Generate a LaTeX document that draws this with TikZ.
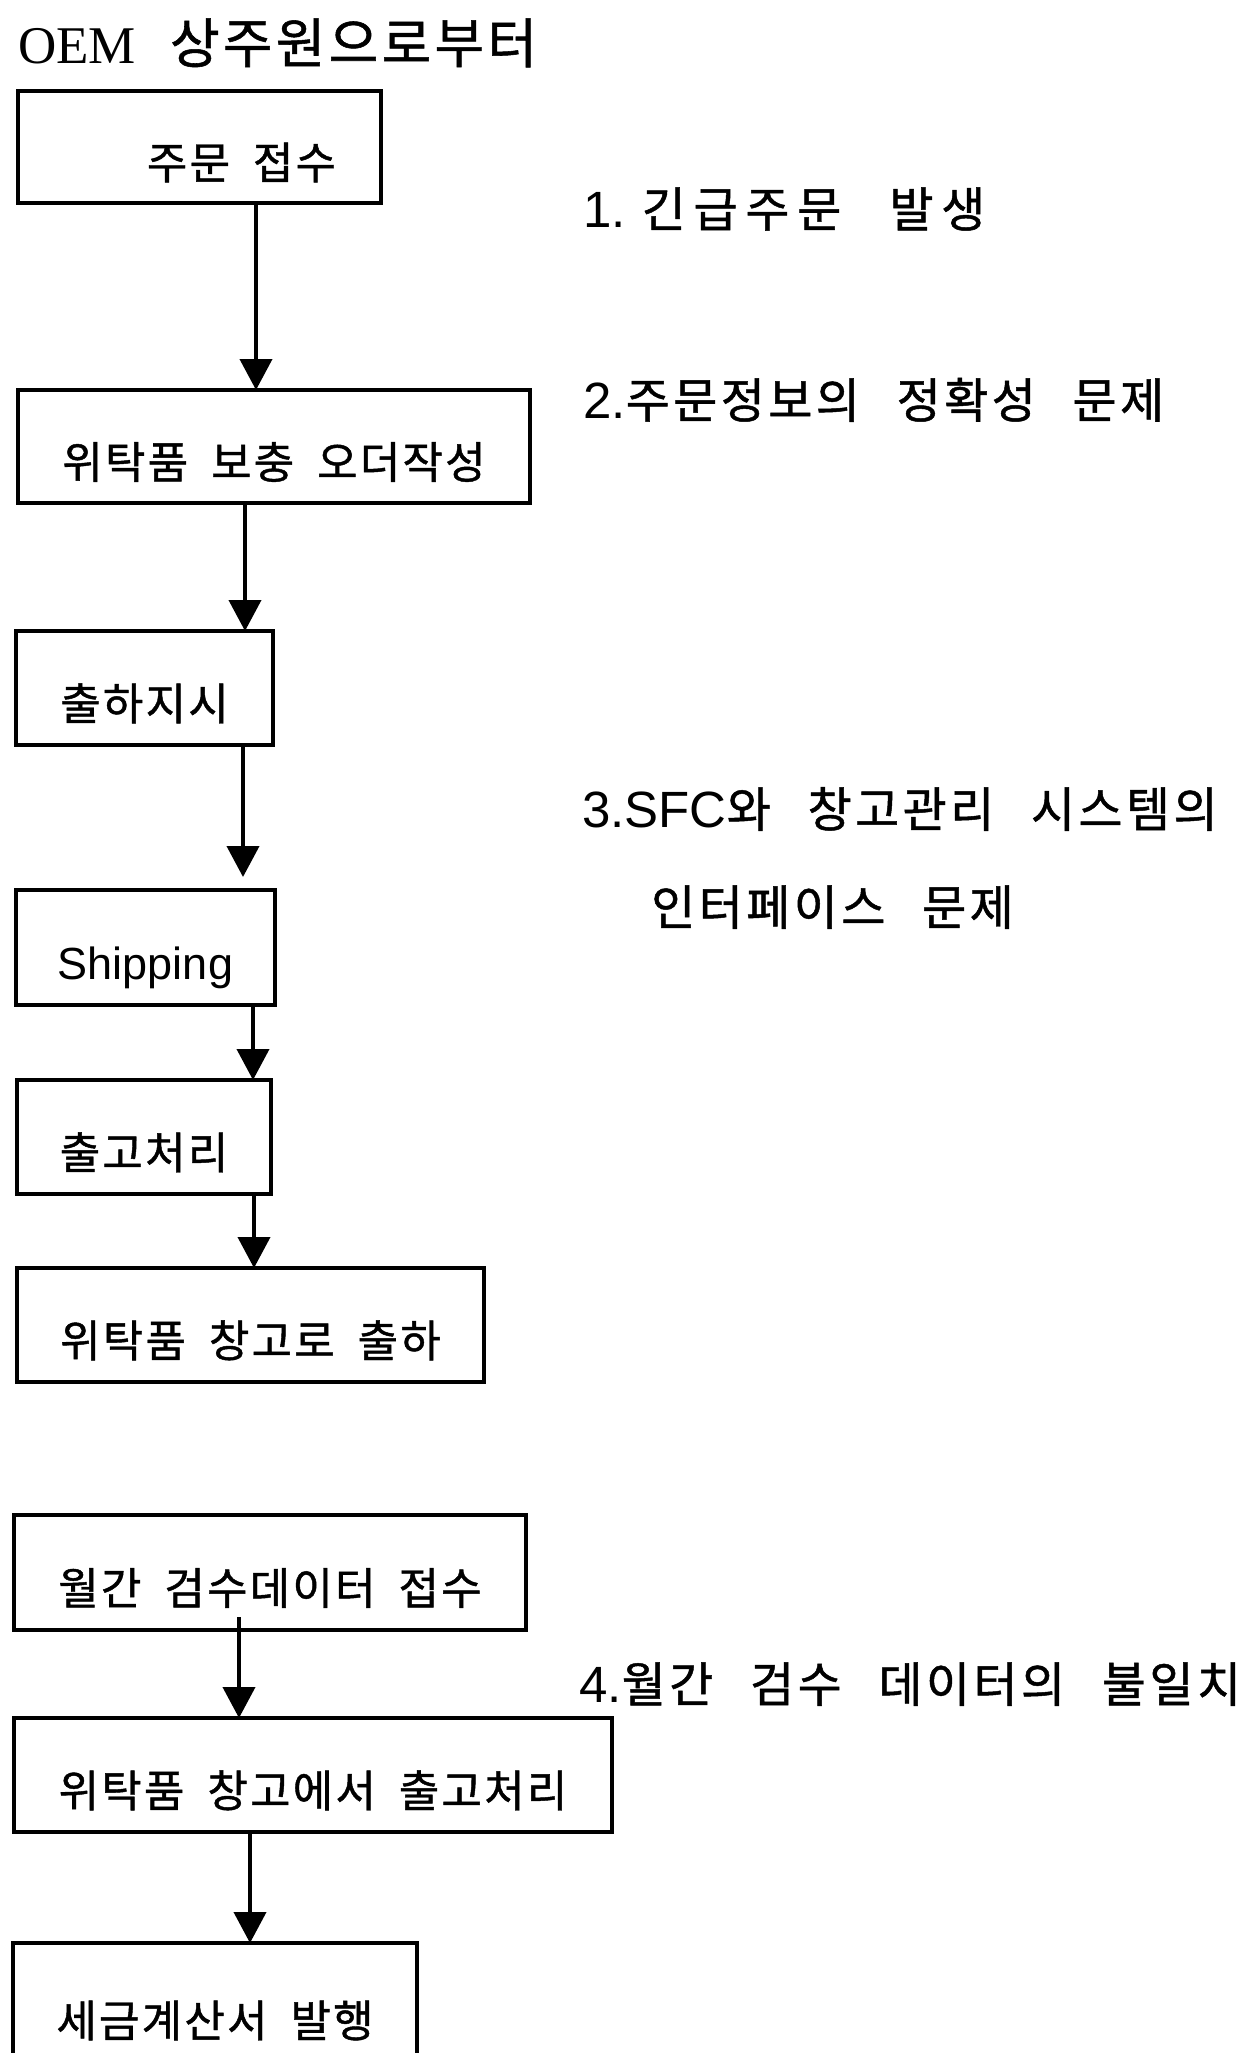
\documentclass[tikz,border=0pt]{standalone}
\usepackage{fontspec}
\usetikzlibrary{arrows.meta}
\newfontfamily\krbox{Noto Sans CJK KR}[LetterSpace=5,WordSpace=1.9,FakeBold=1]
\newfontfamily\krside{Noto Sans CJK KR}[LetterSpace=7,WordSpace=2.6,FakeBold=1]
\newfontfamily\krsidewide{Noto Sans CJK KR}[LetterSpace=16,WordSpace=2.6,FakeBold=1]
\newfontfamily\krtitle{Noto Sans CJK KR}[LetterSpace=6,FakeBold=1]
\newfontfamily\latsans{Liberation Sans}
\newfontfamily\latserif{Liberation Serif}
\tikzset{
  flowbox/.style={draw, line width=4pt, rectangle, inner sep=0pt, outer sep=0pt,
    text height=64pt, text depth=0pt, font=\krbox\fontsize{44}{52}\selectfont},
  flowarrow/.style={line width=4pt, -{Triangle[length=31pt,width=32pt]}},
  sidenote/.style={anchor=base west, inner sep=0pt, font=\krside\fontsize{48}{56}\selectfont}
}
\begin{document}
\begin{tikzpicture}[x=1pt,y=-1pt]
\useasboundingbox[fill=white] (0,0) rectangle (1244,2053);
% title
\node[anchor=base west, inner sep=0pt] (title) at (18,63)
  {{\latserif\fontsize{53}{60}\selectfont OEM}\hspace{34pt}{\krtitle\fontsize{54}{60}\selectfont 상주원으로부터}};
% boxes
\node[flowbox, minimum width=363pt, minimum height=112pt] (b1) at (199.5,147) {\hspace*{84pt}주문 접수};
\node[flowbox, minimum width=512pt, minimum height=113pt] (b2) at (274,446.5) {위탁품 보충 오더작성};
\node[flowbox, minimum width=257pt, minimum height=114pt] (b3) at (144.5,688) {출하지시};
\node[flowbox, minimum width=259pt, minimum height=115pt] (b4) at (145.5,947.5) {\latsans\fontsize{45}{52}\selectfont Shipping};
\node[flowbox, minimum width=254pt, minimum height=114pt] (b5) at (144,1137) {출고처리};
\node[flowbox, minimum width=467pt, minimum height=114pt] (b6) at (250.5,1325) {위탁품 창고로 출하};
\node[flowbox, minimum width=512pt, minimum height=115pt] (b7) at (270,1572.5) {월간 검수데이터 접수};
\node[flowbox, minimum width=598pt, minimum height=114pt] (b8) at (313,1775) {위탁품 창고에서 출고처리};
\node[flowbox, minimum width=404pt, minimum height=124pt] (b9) at (215,2005) {세금계산서 발행};
% arrows
\draw[flowarrow] ([xshift=56.5pt]b1.south) -- ([xshift=56.5pt]b1.south |- b2.north);
\draw[flowarrow] ([xshift=-29pt]b2.south) -- ([xshift=-29pt]b2.south |- b3.north);
\draw[flowarrow, shorten >=13pt] ([xshift=98.5pt]b3.south) -- ([xshift=98.5pt]b3.south |- b4.north);
\draw[flowarrow] ([xshift=107.5pt]b4.south) -- ([xshift=107.5pt]b4.south |- b5.north);
\draw[flowarrow] ([xshift=110pt]b5.south) -- ([xshift=110pt]b5.south |- b6.north);
\draw[flowarrow] ([xshift=-31pt,yshift=13pt]b7.south) -- ([xshift=-31pt]b7.south |- b8.north);
\draw[flowarrow] ([xshift=-63pt]b8.south) -- ([xshift=-63pt]b8.south |- b9.north);
% side notes
\node[sidenote] (n1) at (583,227) {{\latsans\fontsize{51}{56}\selectfont 1.}\hspace{16pt}{\krsidewide 긴급주문 발생}};
\node[sidenote] (n2) at (583,418) {{\latsans\fontsize{51}{56}\selectfont 2.}주문정보의 정확성 문제};
\node[sidenote] (n3) at (582,827) {{\latsans\fontsize{51}{56}\selectfont 3.SFC}와 창고관리 시스템의};
\node[sidenote] (n3b) at (651,925) {인터페이스 문제};
\node[sidenote] (n4) at (579,1702) {{\latsans\fontsize{51}{56}\selectfont 4.}월간 검수 데이터의 불일치};
\end{tikzpicture}
\end{document}
